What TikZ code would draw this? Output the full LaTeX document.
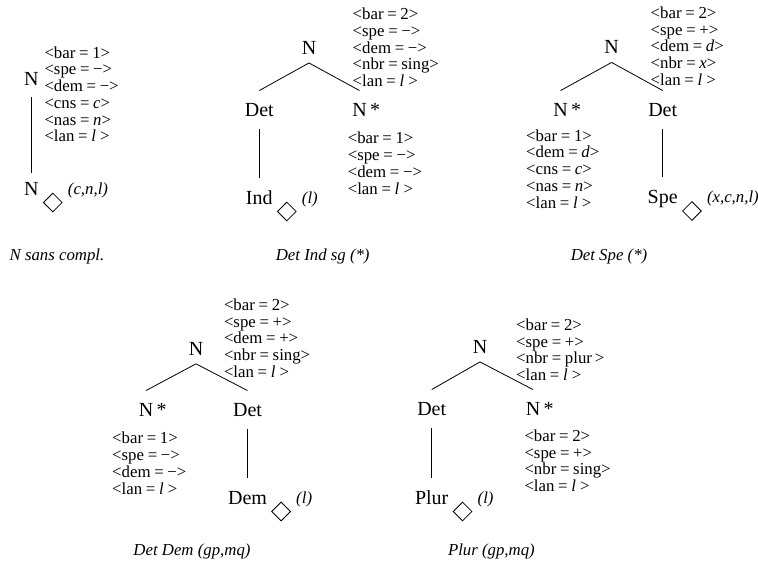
\documentclass[tikz,border=0pt]{standalone}
\usepackage{fontspec}
\setmainfont{Liberation Serif}
\usetikzlibrary{shapes.geometric}
\newcommand\myLab{\fontsize{20}{24}\selectfont}
\newcommand\myFt{\fontsize{16.8}{16.75}\selectfont}
\newcommand\fv[2]{<#1\hspace{.22em}=\hspace{.22em}#2>}
\newcommand\vi[1]{\textit{#1}\/}
\begin{document}
\begin{tikzpicture}[x=1pt,y=-1pt,
  lab/.style={font=\myLab, inner xsep=0pt, text height=13.5pt, text depth=0pt},
  rootn/.style={lab, inner ysep=8.5pt},
  kid/.style={lab, inner ysep=12.5pt},
  leafn/.style={lab, inner ysep=13pt},
  soltop/.style={lab, inner ysep=11pt},
  solbot/.style={lab, inner ysep=9pt},
  feat/.style={font=\myFt, align=left, inner sep=0pt, anchor=north west},
  dia/.style={diamond, draw, line width=0.8pt, aspect=1, minimum width=19pt, minimum height=19pt, inner sep=0pt},
  ann/.style={font=\myFt\itshape, inner sep=0pt, anchor=west, text height=11pt, text depth=3.5pt},
  captxt/.style={font=\myFt\itshape, inner sep=0pt},
  conn/.style={line width=0.8pt}]
\useasboundingbox (0,0) rectangle (758,565);

% ---------- Tree 1 : N sans compl.
\node[soltop] (t1n) at (31.4,79) {N};
\node[solbot] (t1l) at (31.4,188.5) {N};
\draw[conn] (t1n.south) -- (t1l.north);
\node[dia] (t1d) at ([xshift=14pt,yshift=-14pt]t1l.east) {};
\node[ann] (t1a) at ([xshift=5pt,yshift=12pt]t1d.east) {(c,n,l)};
\node[feat] (t1f) at (44.3,46.2) {\fv{bar}{1}\\ \fv{spe}{−}\\ \fv{dem}{−}\\ \fv{cns}{\vi{c}}\\ \fv{nas}{\vi{n}}\\ \fv{lan}{\textit{l}\ }};
\node[captxt] (t1c) at (57,256.5) {N sans compl.};

% ---------- Tree 2 : Det Ind sg (*)
\node[rootn] (t2n) at (309,47.5) {N};
\node[kid] (t2det) at (259.3,110) {Det};
\node[kid] (t2ns) at (359.5,110) {N\rlap{\,*}};
\node[leafn] (t2l) at (259.3,197.5) {Ind};
\draw[conn] (t2n.south) -- (t2det.north);
\draw[conn] (t2n.south) -- (t2ns.north);
\draw[conn] (t2det.south) -- (t2l.north);
\node[dia] (t2d) at ([xshift=14pt,yshift=-14pt]t2l.east) {};
\node[ann] (t2a) at ([xshift=5pt,yshift=12pt]t2d.east) {(l)};
\node[feat] (t2f) at (352.5,7.8) {\fv{bar}{2}\\ \fv{spe}{−}\\ \fv{dem}{−}\\ \fv{nbr}{sing}\\ \fv{lan}{\textit{l}\ }};
\node[feat] (t2g) at (347.6,131.9) {\fv{bar}{1}\\ \fv{spe}{−}\\ \fv{dem}{−}\\ \fv{lan}{\textit{l}\ }};
\node[captxt] (t2c) at (322.7,256.5) {Det Ind sg (*)};

% ---------- Tree 3 : Det Spe (*)
\node[rootn] (t3n) at (611.6,47) {N};
\node[kid] (t3ns) at (560.6,110) {N\rlap{\,*}};
\node[kid] (t3det) at (662.7,110) {Det};
\node[leafn] (t3l) at (662.7,197) {Spe};
\draw[conn] (t3n.south) -- (t3ns.north);
\draw[conn] (t3n.south) -- (t3det.north);
\draw[conn] (t3det.south) -- (t3l.north);
\node[dia] (t3d) at ([xshift=14pt,yshift=-14pt]t3l.east) {};
\node[ann] (t3a) at ([xshift=5pt,yshift=12pt]t3d.east) {(x,c,n,l)};
\node[feat] (t3f) at (650.5,6.6) {\fv{bar}{2}\\ \fv{spe}{+}\\ \fv{dem}{\vi{d}}\\ \fv{nbr}{\vi{x}}\\ \fv{lan}{\textit{l}\ }};
\node[feat] (t3g) at (526,129.3) {\fv{bar}{1}\\ \fv{dem}{\vi{d}}\\ \fv{cns}{\vi{c}}\\ \fv{nas}{\vi{n}}\\ \fv{lan}{\textit{l}\ }};
\node[captxt] (t3c) at (609,256.5) {Det Spe (*)};

% ---------- Tree 4 : Det Dem (gp,mq)
\node[rootn] (t4n) at (196,348.4) {N};
\node[kid] (t4ns) at (146,410) {N\rlap{\,*}};
\node[kid] (t4det) at (247.5,410) {Det};
\node[leafn] (t4l) at (247.5,497.5) {Dem};
\draw[conn] (t4n.south) -- (t4ns.north);
\draw[conn] (t4n.south) -- (t4det.north);
\draw[conn] (t4det.south) -- (t4l.north);
\node[dia] (t4d) at ([xshift=14pt,yshift=-14pt]t4l.east) {};
\node[ann] (t4a) at ([xshift=5pt,yshift=12pt]t4d.east) {(l)};
\node[feat] (t4f) at (223.8,298.6) {\fv{bar}{2}\\ \fv{spe}{+}\\ \fv{dem}{+}\\ \fv{nbr}{sing}\\ \fv{lan}{\textit{l}\ }};
\node[feat] (t4g) at (112,432) {\fv{bar}{1}\\ \fv{spe}{−}\\ \fv{dem}{−}\\ \fv{lan}{\textit{l}\ }};
\node[captxt] (t4c) at (192,551.5) {Det Dem (gp,mq)};

% ---------- Tree 5 : Plur (gp,mq)
\node[rootn] (t5n) at (480,346.5) {N};
\node[kid] (t5det) at (431.7,409) {Det};
\node[kid] (t5ns) at (533,409) {N\rlap{\,*}};
\node[leafn] (t5l) at (431.7,497.5) {Plur};
\draw[conn] (t5n.south) -- (t5det.north);
\draw[conn] (t5n.south) -- (t5ns.north);
\draw[conn] (t5det.south) -- (t5l.north);
\node[dia] (t5d) at ([xshift=14pt,yshift=-14pt]t5l.east) {};
\node[ann] (t5a) at ([xshift=5pt,yshift=12pt]t5d.east) {(l)};
\node[feat] (t5f) at (516,318.6) {\fv{bar}{2}\\ \fv{spe}{+}\\ \fv{nbr}{plur\,}\\ \fv{lan}{\textit{l}\ }};
\node[feat] (t5g) at (524.3,429.6) {\fv{bar}{2}\\ \fv{spe}{+}\\ \fv{nbr}{sing}\\ \fv{lan}{\textit{l}\ }};
\node[captxt] (t5c) at (491.4,551.5) {Plur (gp,mq)};
\end{tikzpicture}
\end{document}
